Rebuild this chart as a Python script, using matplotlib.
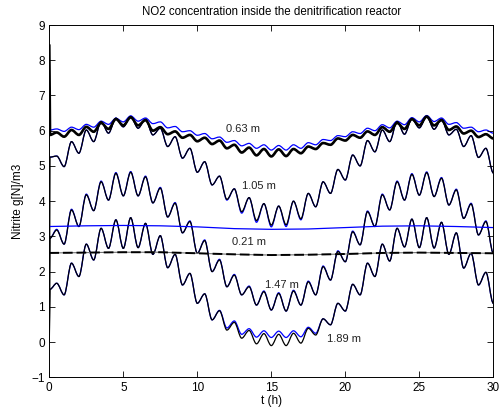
import numpy as np
import matplotlib
matplotlib.use("Agg")
import matplotlib.pyplot as plt
from matplotlib.path import Path
from matplotlib.patches import PathPatch

plt.rcParams['font.family'] = ['Liberation Sans', 'DejaVu Sans']

# ---- data (values read at extremes: peaks at n+0.5 h, troughs at n h) ----
# black = one series, blue = other series, per depth
k189 = [1.67, 1.34, 2.24, 1.86, 2.78, 2.33, 3.23, 2.66, 3.47, 2.66,
        3.53, 2.68, 3.37, 2.49, 3.02, 2.11, 2.49, 1.62, 1.95, 1.10,
        1.37, 0.63, 0.89, 0.34, 0.56, 0.11, 0.33, -0.05, 0.24, -0.10,
        0.22, -0.10, 0.25, -0.03, 0.39, 0.20, 0.66, 0.49, 1.10, 0.88,
        1.64, 1.34, 2.24, 1.86, 2.78, 2.30, 3.23, 2.70, 3.49, 2.68,
        3.53, 2.67, 3.40, 2.49, 3.10, 2.10, 2.52, 1.62, 1.98, 1.10]
b189 = [1.67, 1.34, 2.24, 1.86, 2.78, 2.33, 3.23, 2.66, 3.47, 2.66,
        3.53, 2.68, 3.37, 2.49, 3.02, 2.11, 2.49, 1.62, 1.95, 1.10,
        1.37, 0.63, 0.90, 0.40, 0.60, 0.22, 0.38, 0.14, 0.32, 0.13,
        0.31, 0.13, 0.32, 0.15, 0.42, 0.25, 0.66, 0.49, 1.10, 0.88,
        1.64, 1.34, 2.24, 1.86, 2.78, 2.30, 3.23, 2.70, 3.49, 2.68,
        3.53, 2.67, 3.40, 2.49, 3.10, 2.10, 2.52, 1.62, 1.98, 1.10]
k147 = [3.18, 2.78, 3.75, 3.28, 4.18, 3.73, 4.55, 4.03, 4.79, 4.15,
        4.82, 4.15, 4.69, 3.95, 4.37, 3.55, 3.94, 3.10, 3.42, 2.52,
        2.88, 2.00, 2.33, 1.57, 1.90, 1.34, 1.57, 1.05, 1.43, 0.91,
        1.38, 0.88, 1.45, 1.05, 1.71, 1.34, 2.14, 1.76, 2.57, 2.28,
        3.13, 2.76, 3.70, 3.28, 4.18, 3.75, 4.55, 4.03, 4.76, 4.17,
        4.81, 4.13, 4.65, 3.89, 4.32, 3.51, 3.92, 3.04, 3.42, 2.52]
b147 = [3.20, 2.78, 3.77, 3.28, 4.20, 3.73, 4.57, 4.03, 4.81, 4.15,
        4.84, 4.15, 4.71, 3.95, 4.39, 3.55, 3.96, 3.10, 3.44, 2.52,
        2.90, 2.00, 2.35, 1.57, 1.92, 1.34, 1.59, 1.05, 1.45, 0.91,
        1.40, 0.88, 1.47, 1.05, 1.73, 1.34, 2.16, 1.76, 2.59, 2.28,
        3.15, 2.76, 3.72, 3.28, 4.20, 3.75, 4.57, 4.03, 4.78, 4.17,
        4.83, 4.13, 4.67, 3.89, 4.34, 3.51, 3.94, 3.04, 3.44, 2.52]
k105 = [5.28, 4.98, 5.69, 5.36, 6.02, 5.69, 6.26, 5.93, 6.35, 6.11,
        6.40, 6.07, 6.32, 5.88, 6.07, 5.55, 5.83, 5.22, 5.50, 4.82,
        5.12, 4.46, 4.71, 4.05, 4.35, 3.70, 4.10, 3.45, 3.93, 3.32,
        3.86, 3.33, 4.00, 3.50, 4.22, 3.84, 4.55, 4.22, 4.90, 4.60,
        5.31, 5.00, 5.72, 5.40, 6.02, 5.69, 6.26, 5.90, 6.33, 6.08,
        6.40, 6.04, 6.32, 5.88, 6.04, 5.55, 5.86, 5.24, 5.50, 4.80]
b105 = [5.28, 4.98, 5.69, 5.36, 6.02, 5.69, 6.26, 5.93, 6.36, 6.11,
        6.41, 6.07, 6.33, 5.88, 6.07, 5.55, 5.83, 5.22, 5.50, 4.82,
        5.12, 4.46, 4.71, 4.03, 4.35, 3.66, 4.10, 3.40, 3.93, 3.27,
        3.86, 3.28, 4.00, 3.47, 4.22, 3.84, 4.55, 4.22, 4.90, 4.60,
        5.31, 5.00, 5.72, 5.40, 6.02, 5.69, 6.26, 5.90, 6.34, 6.08,
        6.41, 6.04, 6.33, 5.88, 6.04, 5.55, 5.86, 5.24, 5.50, 4.80]
k063 = [5.95, 5.83, 6.02, 5.88, 6.11, 5.97, 6.22, 6.05, 6.33, 6.15,
        6.38, 6.15, 6.30, 6.00, 6.10, 5.90, 5.98, 5.80, 5.88, 5.70,
        5.80, 5.62, 5.72, 5.50, 5.60, 5.38, 5.52, 5.30, 5.48, 5.27,
        5.47, 5.28, 5.48, 5.36, 5.55, 5.48, 5.65, 5.60, 5.78, 5.72,
        5.88, 5.80, 5.98, 5.88, 6.10, 5.97, 6.22, 6.05, 6.33, 6.15,
        6.40, 6.15, 6.30, 6.02, 6.12, 5.92, 6.00, 5.82, 5.90, 5.78]
b063 = [6.05, 5.98, 6.10, 6.03, 6.18, 6.10, 6.27, 6.18, 6.35, 6.25,
        6.42, 6.27, 6.36, 6.20, 6.25, 6.08, 6.12, 5.97, 6.00, 5.87,
        5.92, 5.77, 5.82, 5.67, 5.72, 5.57, 5.64, 5.50, 5.60, 5.45,
        5.58, 5.45, 5.60, 5.50, 5.66, 5.60, 5.75, 5.72, 5.86, 5.83,
        5.97, 5.92, 6.07, 6.00, 6.17, 6.08, 6.27, 6.17, 6.37, 6.25,
        6.43, 6.26, 6.36, 6.18, 6.23, 6.07, 6.10, 5.97, 6.02, 5.93]

# values just after start (t = 0.05 h) and initial values at t = 0
start_k = {'189': 1.50, '147': 2.95, '105': 5.25, '063': 5.88}
init_k = {'189': 0.0, '147': 0.0, '105': 0.0, '063': 8.45}
start_b = {'189': 1.50, '147': 2.95, '105': 5.25, '063': 6.02}

# 0.21 m (nearly flat)
t021 = [0, 2.5, 5, 7.5, 10, 12.5, 15, 17.5, 20, 22.5, 25, 27.5, 30]
b021 = [3.28, 3.30, 3.31, 3.30, 3.27, 3.22, 3.20, 3.21, 3.25, 3.29, 3.30, 3.28, 3.25]
k021 = [2.53, 2.54, 2.55, 2.55, 2.52, 2.49, 2.47, 2.48, 2.50, 2.53, 2.54, 2.53, 2.52]

depth_labels = ['0.63 m', '1.05 m', '0.21 m', '1.47 m', '1.89 m']
xticks = [0, 5, 10, 15, 20, 25, 30]
yticks = [-1, 0, 1, 2, 3, 4, 5, 6, 7, 8, 9]

t_ext = np.arange(1, 61) * 0.5


def extremes_path(t_pre, y_pre, t, y):
    """Straight segments through the leading points, then smooth segments
    between successive extremes (horizontal tangent at each extreme)."""
    verts = [(t_pre[0], y_pre[0])]
    codes = [Path.MOVETO]
    for tp, yp in zip(t_pre[1:], y_pre[1:]):
        verts.append((tp, yp))
        codes.append(Path.LINETO)
    pts_t = [t_pre[-1]] + list(t)
    pts_y = [y_pre[-1]] + list(y)
    for i in range(len(pts_t) - 1):
        t0, t1 = pts_t[i], pts_t[i + 1]
        y0, y1 = pts_y[i], pts_y[i + 1]
        d = (t1 - t0) / 3.0
        verts += [(t0 + d, y0), (t1 - d, y1), (t1, y1)]
        codes += [Path.CURVE4] * 3
    return Path(verts, codes)


W, H = 502, 416
fig = plt.figure(figsize=(W / 100, H / 100), dpi=100)
L, R, T, B = 49.3, 493.3, 25.0, 377.3
ax = fig.add_axes([L / W, 1 - B / H, (R - L) / W, (B - T) / H])

blue = '#0000ff'
# blue series first (underneath)
for key, arr in [('063', b063), ('105', b105), ('147', b147), ('189', b189)]:
    p = extremes_path([0.05], [start_b[key]], t_ext, arr)
    ax.add_patch(PathPatch(p, fill=False, edgecolor=blue, lw=0.9))
ax.plot(t021, b021, color=blue, lw=0.9)

# black series
ax.plot(t021, k021, color='0.45', lw=0.8)
ax.plot(t021, k021, color='k', lw=1.4, ls=(0, (5, 2)))
for key, arr, lw in [('105', k105, 0.9), ('147', k147, 0.9), ('189', k189, 0.9), ('063', k063, 1.9)]:
    p = extremes_path([0.0, 0.05], [init_k[key], start_k[key]], t_ext, arr)
    ax.add_patch(PathPatch(p, fill=False, edgecolor='k', lw=lw))

# depth labels
lab_pos = [(11.95, 6.05), (13.0, 4.44), (12.32, 2.83), (14.57, 1.62), (18.74, 0.09)]
for txt, (x, y) in zip(depth_labels, lab_pos):
    ax.text(x, y, txt, fontsize=8, ha='left', va='center', color='#222222')

ax.set_xlim(0, 30)
ax.set_ylim(-1, 9)
ax.set_xticks(xticks)
ax.set_yticks(yticks)
ax.tick_params(direction='in', top=True, right=True, length=4, width=0.6,
               labelsize=8.5, pad=3.5)
ax.tick_params(axis='y', pad=3)
for s in ax.spines.values():
    s.set_linewidth(0.7)

ax.set_xlabel('t (h)', fontsize=8.5)
ax.xaxis.set_label_coords(0.5, -0.05)
ax.set_ylabel('Nitrite g[N]/m3', fontsize=8.5)
ax.yaxis.set_label_coords(-0.056, 0.5)
ax.text(0.5, 1 + (T - 12.3) / (B - T), 'NO2 concentration inside the denitrification reactor',
        transform=ax.transAxes, ha='center', va='center', fontsize=8.3)

fig.savefig('out.png', dpi=100)
